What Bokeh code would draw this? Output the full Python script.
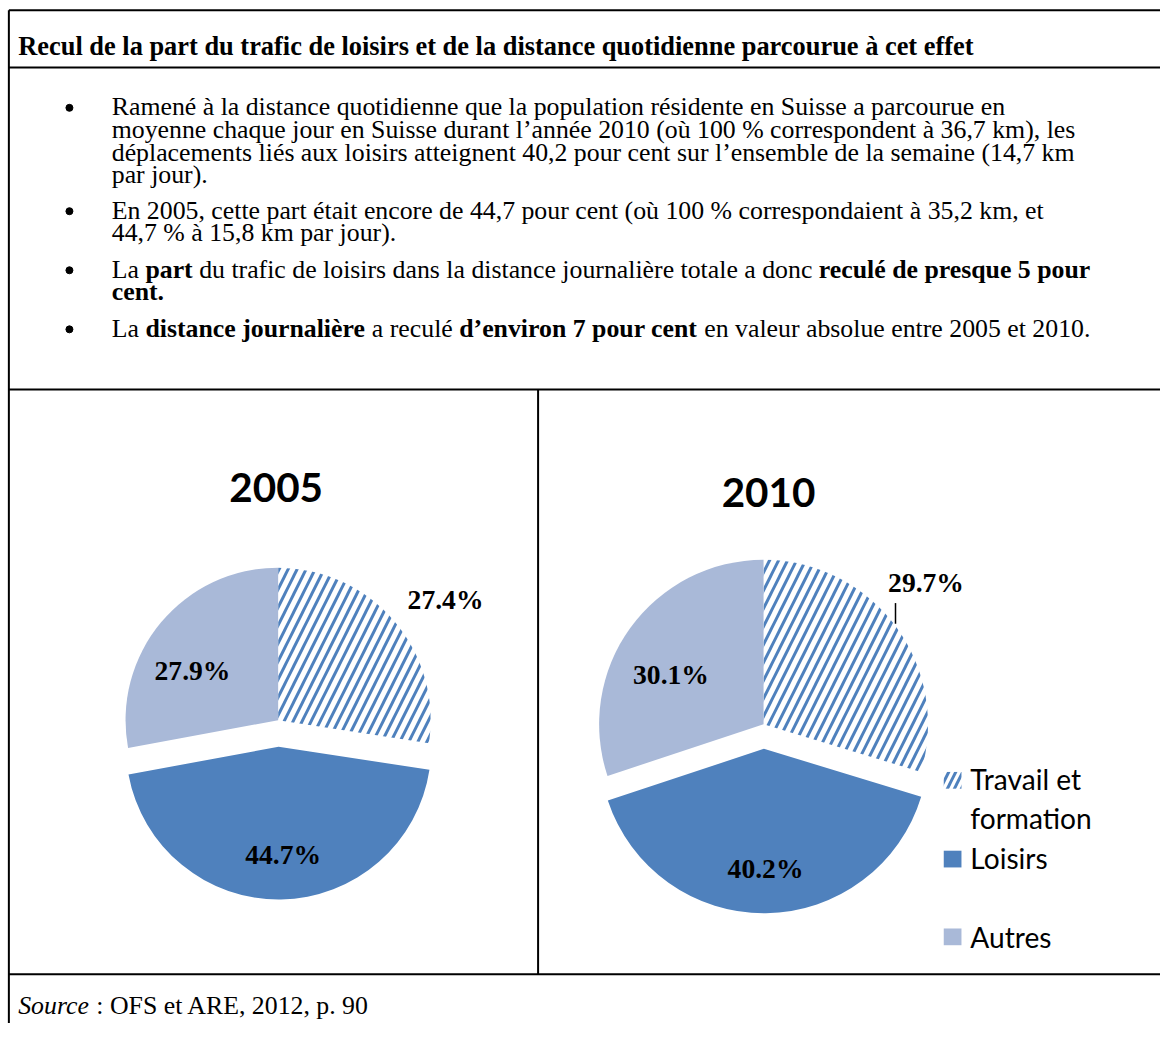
import math
from bokeh.plotting import figure
from bokeh.models import Range1d, ColumnDataSource
from bokeh.embed import file_html
from bokeh.resources import INLINE
from bokeh.core.properties import value

# ---------------- data ----------------
years = ["2005", "2010"]
categories = ["Travail et formation", "Loisirs", "Autres"]
shares_2005 = [27.4, 44.7, 27.9]
shares_2010 = [29.7, 40.2, 30.1]
share_labels_2005 = ["27.4%", "44.7%", "27.9%"]
share_labels_2010 = ["29.7%", "40.2%", "30.1%"]
legend_lines = [["Travail et", "formation"], ["Loisirs"], ["Autres"]]

title = "Recul de la part du trafic de loisirs et de la distance quotidienne parcourue à cet effet"
body_lines = [
    [("Ramené à la distance quotidienne que la population résidente en Suisse a parcourue en", "n")],
    [("moyenne chaque jour en Suisse durant l’année 2010 (où 100 % correspondent à 36,7 km), les", "n")],
    [("déplacements liés aux loisirs atteignent 40,2 pour cent sur l’ensemble de la semaine (14,7 km", "n")],
    [("par jour).", "n")],
    [("En 2005, cette part était encore de 44,7 pour cent (où 100 % correspondaient à 35,2 km, et", "n")],
    [("44,7 % à 15,8 km par jour).", "n")],
    [("La ", "n"), ("part", "b"), (" du trafic de loisirs dans la distance journalière totale a donc ", "n"),
     ("reculé de presque 5 pour", "b")],
    [("cent.", "b")],
    [("La ", "n"), ("distance journalière", "b"), (" a reculé ", "n"), ("d’environ 7 pour cent", "b"),
     (" en valeur absolue entre 2005 et 2010.", "n")],
]
bullet_line_index = [0, 4, 6, 8]
source_parts = [("Source", "i"), (" : OFS et ARE, 2012, p. 90", "n")]

# ---------------- layout helpers ----------------
W, H = 1160, 1023
S = H / 1039.0          # reference (1176x1039) -> figure scale
def X(px):
    return px * S
def Y(py):
    return H - py * S
def F(sz):
    return f"{sz * S:.1f}px"

SERIF = "Liberation Serif"
SANS = "Lato"
BODY = 26.2

# Times-compatible advance widths (per 1000 em) for positioning mixed-style segments
REG = dict(zip("abcdefghijklmnopqrstuvwxyz", [444,500,444,500,444,333,500,500,278,278,500,278,778,500,500,500,500,333,389,278,500,500,722,500,500,444]))
BOLD = dict(zip("abcdefghijklmnopqrstuvwxyz", [500,556,444,556,444,333,500,556,278,333,556,278,833,556,500,556,556,444,389,333,556,500,722,500,500,444]))
ITAL = dict(zip("abcdefghijklmnopqrstuvwxyz", [500,500,444,500,444,278,500,500,278,278,444,278,722,500,500,500,500,389,389,278,500,444,667,444,444,389]))
for t in (REG, BOLD, ITAL):
    t.update({" ": 250, ".": 250, ",": 250, "’": 333, "(": 333, ")": 333, "%": 833, ":": 278,
              "é": 444, "è": 444, "à": t["a"], "L": 611, "S": 556})
    for d in "0123456789":
        t[d] = 500
ITAL["S"] = 500
TABLES = {"n": REG, "b": BOLD, "i": ITAL}

def tw(s, style, size):
    tab = TABLES[style]
    return sum(tab.get(ch, 500) for ch in s) / 1000.0 * size

p = figure(width=W, height=H, x_range=Range1d(0, W), y_range=Range1d(0, H),
           toolbar_location=None, output_backend="svg", min_border=0,
           x_axis_type=None, y_axis_type=None)
p.grid.visible = False
p.outline_line_color = None
p.background_fill_color = "white"

# ---------------- table rules ----------------
BL = "black"
LX = 8.5
p.segment(x0=[X(LX)], y0=[Y(10)], x1=[W], y1=[Y(10)], line_color=BL, line_width=2)
p.segment(x0=[X(LX)], y0=[Y(10)], x1=[X(LX)], y1=[0], line_color=BL, line_width=2)
p.segment(x0=[X(LX)], y0=[Y(68)], x1=[W], y1=[Y(68)], line_color=BL, line_width=2)
p.segment(x0=[X(LX)], y0=[Y(395)], x1=[W], y1=[Y(395)], line_color=BL, line_width=2)
p.segment(x0=[X(LX)], y0=[Y(989)], x1=[W], y1=[Y(989)], line_color=BL, line_width=2)
p.segment(x0=[X(546)], y0=[Y(395)], x1=[X(546)], y1=[Y(989)], line_color=BL, line_width=2)

# ---------------- title & text ----------------
p.text(x=[X(18)], y=[Y(46)], text=[title], text_font=value(SERIF), text_font_style="bold",
       text_font_size=F(26.8), text_align="left", text_baseline="middle", text_color="black")

centers = [108, 131, 154, 177, 213, 236, 273, 296, 333]
seg_x, seg_y, seg_t = {"n": [], "b": [], "i": []}, {"n": [], "b": [], "i": []}, {"n": [], "b": [], "i": []}
for line, cy in zip(body_lines, centers):
    x = 113.0
    for txt, st in line:
        lead = len(txt) - len(txt.lstrip(" "))
        seg_x[st].append(X(x + tw(" " * lead, st, BODY)))
        seg_y[st].append(Y(cy))
        seg_t[st].append(txt.strip(" "))
        x += tw(txt, st, BODY)
x = 18.0
for txt, st in source_parts:
    lead = len(txt) - len(txt.lstrip(" "))
    seg_x[st].append(X(x + tw(" " * lead, st, BODY)))
    seg_y[st].append(Y(1021))
    seg_t[st].append(txt.strip(" "))
    x += tw(txt, st, BODY)
for st, fs in (("n", "normal"), ("b", "bold"), ("i", "italic")):
    p.text(x=seg_x[st], y=seg_y[st], text=seg_t[st], text_font=value(SERIF), text_font_style=fs,
           text_font_size=F(BODY), text_align="left", text_baseline="middle", text_color="black")

p.scatter(x=[X(70)] * len(bullet_line_index), y=[Y(centers[i] + 1) for i in bullet_line_index],
          size=7, marker="circle", fill_color="black", line_color="black")

# ---------------- pies ----------------
colors = ["#FFFFFF", "#4F81BD", "#A9B9D8"]
hatches = ["/", " ", " "]
pies = [
    dict(year=years[0], shares=shares_2005, labels=share_labels_2005, cx=282, cy=731, r=155, explode=27,
         label_pos=[(452, 608), (287, 867), (195, 680)], year_pos=(280, 495)),
    dict(year=years[1], shares=shares_2010, labels=share_labels_2010, cx=775, cy=735, r=167, explode=25,
         label_pos=[(940, 591), (777, 882), (681, 685)], year_pos=(780, 500)),
]
for pie in pies:
    xs, ys, st_a, en_a = [], [], [], []
    cum = 0.0
    for cat, s in zip(categories, pie["shares"]):
        a_end = math.radians(90 - cum * 3.6)
        cum += s
        a_start = math.radians(90 - cum * 3.6)
        mid = (a_start + a_end) / 2
        d = pie["explode"] * S if cat == "Loisirs" else 0
        xs.append(X(pie["cx"]) + d * math.cos(mid))
        ys.append(Y(pie["cy"]) + d * math.sin(mid))
        st_a.append(a_start)
        en_a.append(a_end)
    src = ColumnDataSource(dict(x=xs, y=ys, start=st_a, end=en_a, color=colors, hatch=hatches,
                                cat=categories, share=pie["shares"]))
    p.wedge(x="x", y="y", radius=pie["r"] * S, start_angle="start", end_angle="end", source=src,
            fill_color="color", line_color=None, hatch_pattern="hatch", hatch_color="#4F81BD",
            hatch_weight=3.0, hatch_scale=18)
    p.text(x=[X(a) for a, b in pie["label_pos"]], y=[Y(b) for a, b in pie["label_pos"]], text=pie["labels"],
           text_font=value(SERIF), text_font_style="bold", text_font_size=F(28),
           text_align="center", text_baseline="middle", text_color="black")
    p.text(x=[X(pie["year_pos"][0])], y=[Y(pie["year_pos"][1])], text=[pie["year"]], text_font=value(SANS),
           text_font_style="bold", text_font_size=F(41), text_align="center", text_baseline="middle",
           text_color="black")

# leader line for 29.7%
p.segment(x0=[X(909)], y0=[Y(612)], x1=[X(909)], y1=[Y(633)], line_color="black", line_width=1.5)

# ---------------- legend ----------------
sw_y = [792, 872, 951]
p.rect(x=[X(967)] * 3, y=[Y(v) for v in sw_y], width=18 * S, height=17 * S, fill_color=colors,
       line_color=None, hatch_pattern=hatches, hatch_color="#4F81BD", hatch_weight=3, hatch_scale=14)
leg_x, leg_y, leg_t = [], [], []
leg_centers = [[791, 830], [871], [951]]
for lines_, ys_ in zip(legend_lines, leg_centers):
    for t, yy in zip(lines_, ys_):
        leg_x.append(X(985)); leg_y.append(Y(yy)); leg_t.append(t)
p.text(x=leg_x, y=leg_y, text=leg_t, text_font=value(SANS), text_font_size=F(28.5),
       text_align="left", text_baseline="middle", text_color="black")

open("out.html", "w").write(file_html(p, INLINE))
